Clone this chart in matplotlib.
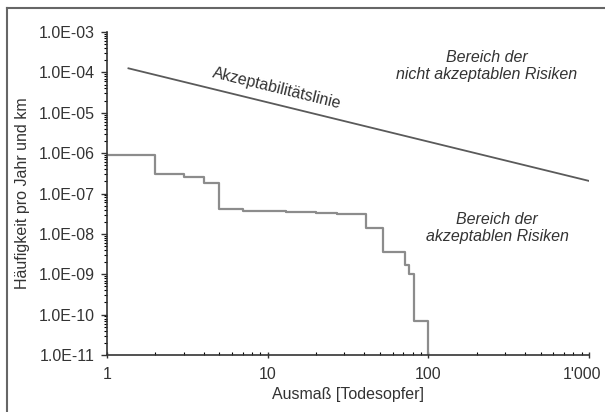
import matplotlib
matplotlib.use("Agg")
import matplotlib.pyplot as plt
from matplotlib.ticker import LogLocator, FixedLocator, NullFormatter
from matplotlib.lines import Line2D
from matplotlib.transforms import ScaledTranslation

plt.rcParams['font.family'] = ['Liberation Sans', 'DejaVu Sans']

# Data
step_x = [1, 2, 3, 4, 5, 7, 13, 20, 27, 35, 41, 52, 72, 76, 81, 100]
step_y = [9.0e-7, 3.1e-7, 2.6e-7, 1.8e-7, 4.1e-8, 3.7e-8, 3.5e-8, 3.3e-8,
          3.15e-8, 3.05e-8, 1.4e-8, 3.5e-9, 1.65e-9, 1.0e-9, 7.0e-11, 1e-11]
line_x = [1.36, 1000]
line_y = [1.26e-4, 2.05e-7]
x_ticks = [1, 10, 100, 1000]
x_ticklabels = ["1", "10", "100", "1'000"]
y_ticks = [1e-11, 1e-10, 1e-9, 1e-8, 1e-7, 1e-6, 1e-5, 1e-4, 1e-3]
y_ticklabels = ["1.0E-11", "1.0E-10", "1.0E-09", "1.0E-08", "1.0E-07",
                "1.0E-06", "1.0E-05", "1.0E-04", "1.0E-03"]

W, H = 605, 412
FS = 11.5
fig = plt.figure(figsize=(W / 100, H / 100), dpi=100)
ax = fig.add_axes([107 / W, 1 - 355 / H, (589 - 107) / W, (355 - 32) / H])

ax.step(step_x, step_y, where='post', color='#8c8c8c', lw=1.6)
ax.plot(line_x, line_y, color='#5a5a5a', lw=1.3)

ax.set_xscale('log')
ax.set_yscale('log')
ax.set_xlim(1, 1000)
ax.set_ylim(1e-11, 1e-3)

ax.xaxis.set_major_locator(FixedLocator(x_ticks))
ax.set_xticklabels(x_ticklabels)
ax.yaxis.set_major_locator(FixedLocator(y_ticks))
ax.set_yticklabels(y_ticklabels)
ax.xaxis.set_minor_locator(LogLocator(base=10, subs=range(2, 10)))
ax.yaxis.set_minor_locator(LogLocator(base=10, subs=range(2, 10), numticks=20))
ax.xaxis.set_minor_formatter(NullFormatter())
ax.yaxis.set_minor_formatter(NullFormatter())

for s in ['top', 'right']:
    ax.spines[s].set_visible(False)
for s in ['left', 'bottom']:
    ax.spines[s].set_color('#333333')
    ax.spines[s].set_linewidth(1.2)

ax.tick_params(axis='both', which='major', labelsize=FS, colors='#333333',
               labelcolor='#333333')
ax.tick_params(axis='y', which='major', direction='out', length=4, width=1, pad=5)
ax.tick_params(axis='y', which='minor', direction='out', length=2, width=0.8)
ax.tick_params(axis='x', which='major', direction='inout', length=5, width=1, pad=6)
ax.tick_params(axis='x', which='minor', direction='in', length=2.5, width=0.8)

# shift last x tick label slightly left so it stays inside the picture
last = ax.get_xticklabels()[-1]
last.set_transform(last.get_transform() + ScaledTranslation(-7 / 100, 0, fig.dpi_scale_trans))

ax.set_xlabel('Ausmaß [Todesopfer]', fontsize=FS, color='#333333', labelpad=4)
ax.set_ylabel('Häufigkeit pro Jahr und km', fontsize=FS, color='#333333', labelpad=6)

ax.text(277 / W, 1 - 88 / H, 'Akzeptabilitätslinie', transform=fig.transFigure,
        rotation=-13.8, ha='center', va='center', fontsize=FS, color='#333333',
        rotation_mode='anchor')
ax.text(487 / W, 1 - 66 / H, 'Bereich der\nnicht akzeptablen Risiken',
        transform=fig.transFigure, ha='center', va='center', fontsize=FS,
        style='italic', color='#333333', linespacing=1.15)
ax.text(497 / W, 1 - 228 / H, 'Bereich der\nakzeptablen Risiken',
        transform=fig.transFigure, ha='center', va='center', fontsize=FS,
        style='italic', color='#333333', linespacing=1.15)

# outer frame (left and top)
fig.add_artist(Line2D([7 / W, 7 / W], [0, 1 - 8 / H], transform=fig.transFigure,
                      color='#666666', lw=1.5))
fig.add_artist(Line2D([7 / W, 1], [1 - 8 / H, 1 - 8 / H], transform=fig.transFigure,
                      color='#666666', lw=1.5))

fig.savefig('out.png', dpi=100)
